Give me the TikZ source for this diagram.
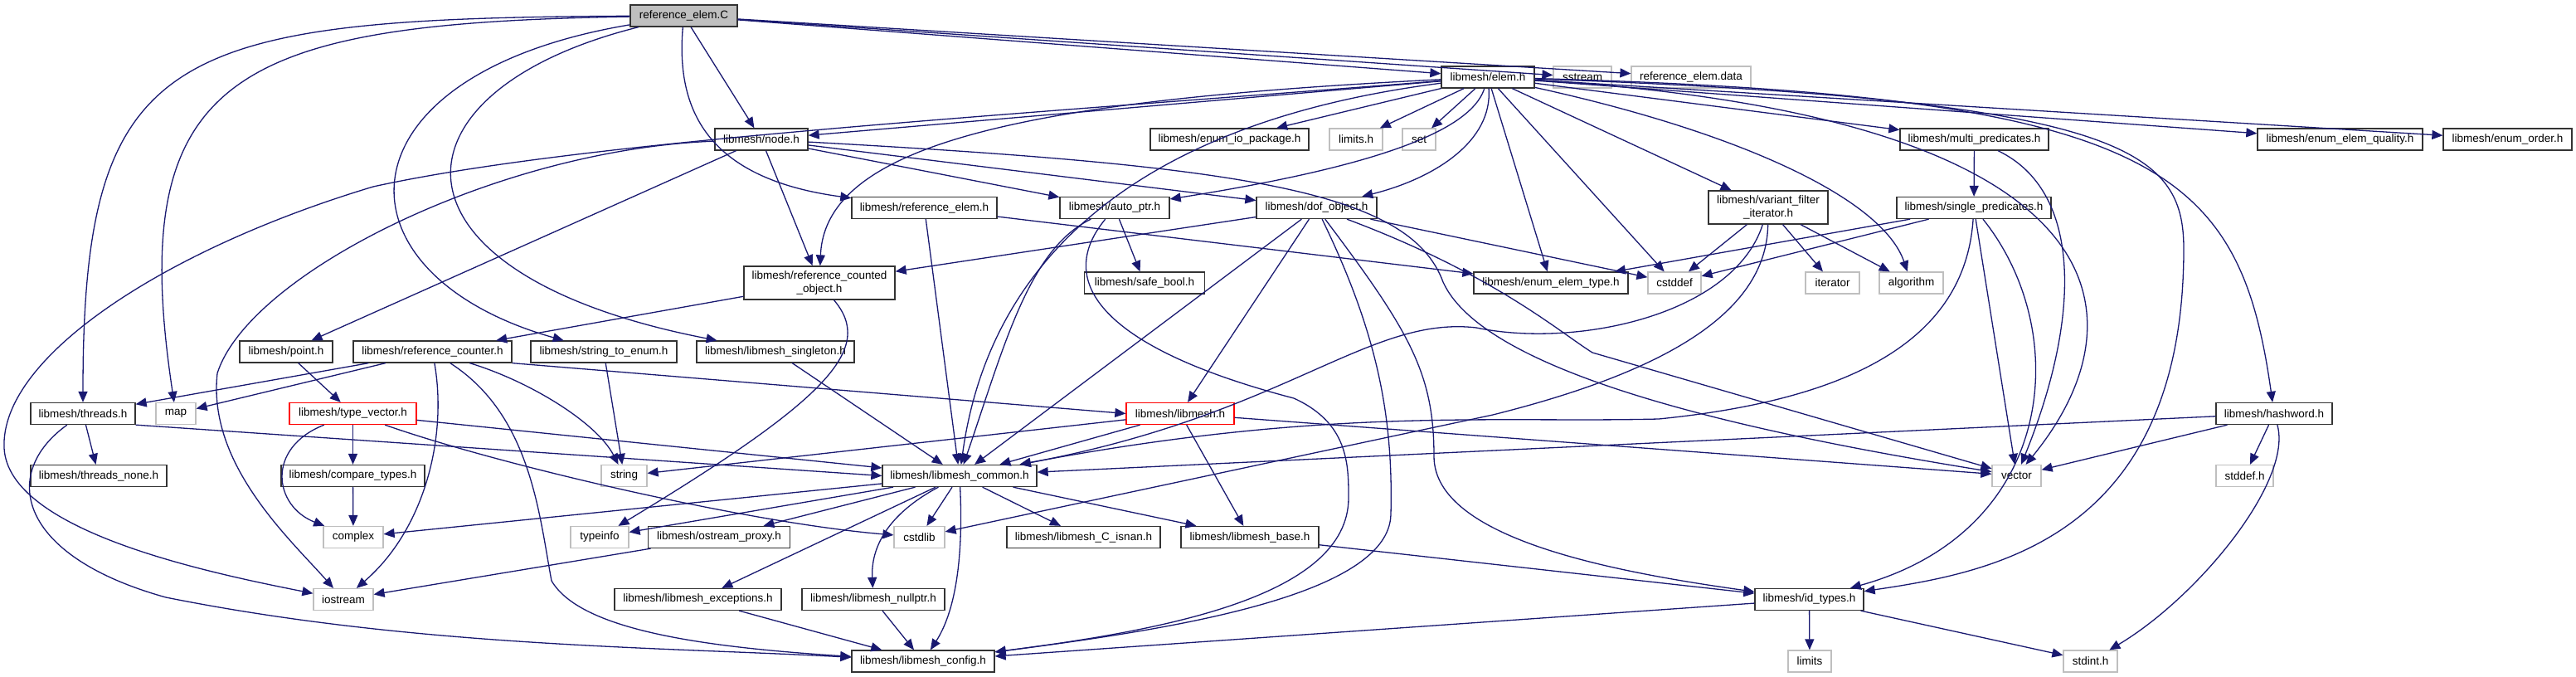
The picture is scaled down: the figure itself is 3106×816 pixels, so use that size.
\documentclass[tikz,border=0pt]{standalone}
\usepackage{fontspec}
\setmainfont{Liberation Sans}
\usetikzlibrary{arrows.meta}
\definecolor{edgeblue}{HTML}{191970}
\definecolor{sysgray}{HTML}{BFBFBF}
\definecolor{boxline}{HTML}{333333}

\begin{document}
\begin{tikzpicture}[x=1pt, y=-1pt,
    box/.style={draw, rectangle, minimum height=26pt, inner sep=1pt, align=center, font=\fontsize{13.5}{15.5}\selectfont},
    hdr/.style={box, draw=boxline, line width=1.3pt},
    sys/.style={box, draw=sysgray, line width=1.2pt},
    trunc/.style={box, draw=red, line width=1.3pt},
    rootbox/.style={box, draw=boxline, fill=sysgray, line width=1.3pt},
    dep/.style={-{Triangle[length=13pt,width=11pt]}, edgeblue, line width=1.3pt}]
    \useasboundingbox (0,0) rectangle (3106,816);

    % Nodes
    \node[rootbox, minimum width=129pt] (refC) at (824.5,19) {reference\_elem.C};

    \node[hdr, minimum width=112pt] (elemh) at (1794,93) {libmesh/elem.h};
    \node[sys, minimum width=70pt] (sstream) at (1908,93) {sstream};
    \node[sys, minimum width=144pt] (refdata) at (2039,93) {reference\_elem.data};

    \node[hdr, minimum width=112pt] (nodeh) at (918,168) {libmesh/node.h};
    \node[hdr, minimum width=191pt] (enumio) at (1482.5,168) {libmesh/enum\_io\_package.h};
    \node[sys, minimum width=64pt] (limitsh) at (1635,168) {limits.h};
    \node[sys, minimum width=40pt] (seth) at (1711,168) {set};
    \node[hdr, minimum width=179pt] (multipred) at (2380.5,168) {libmesh/multi\_predicates.h};
    \node[hdr, minimum width=199pt] (enumqual) at (2821.5,168) {libmesh/enum\_elem\_quality.h};
    \node[hdr, minimum width=155pt] (enumorder) at (3023.5,168) {libmesh/enum\_order.h};

    \node[hdr, minimum width=175pt] (refelemh) at (1114.5,250.5) {libmesh/reference\_elem.h};
    \node[hdr, minimum width=132pt] (autoptr) at (1344,250.5) {libmesh/auto\_ptr.h};
    \node[hdr, minimum width=145pt] (dofobj) at (1587.5,250.5) {libmesh/dof\_object.h};
    \node[hdr, minimum width=144pt, minimum height=40pt] (variant) at (2132,250) {libmesh/variant\_filter\\\_iterator.h};
    \node[hdr, minimum width=186pt] (singlepred) at (2380,250.5) {libmesh/single\_predicates.h};

    \node[hdr, minimum width=182pt, minimum height=40pt] (refcounted) at (988,341) {libmesh/reference\_counted\\\_object.h};
    \node[hdr, minimum width=145pt] (safebool) at (1380,341) {libmesh/safe\_bool.h};
    \node[hdr, minimum width=186pt] (enumtype) at (1870,341) {libmesh/enum\_elem\_type.h};
    \node[sys, minimum width=64pt] (cstddef) at (2019,341) {cstddef};
    \node[sys, minimum width=65pt] (iteratorh) at (2209.5,341) {iterator};
    \node[sys, minimum width=77pt] (algorithmh) at (2304.5,341) {algorithm};

    \node[hdr, minimum width=112pt] (pointh) at (345,424) {libmesh/point.h};
    \node[hdr, minimum width=191pt] (refcounter) at (521.5,424) {libmesh/reference\_counter.h};
    \node[hdr, minimum width=176pt] (str2enum) at (728,424) {libmesh/string\_to\_enum.h};
    \node[hdr, minimum width=190pt] (singleton) at (935,424) {libmesh/libmesh\_singleton.h};

    \node[hdr, minimum width=126pt] (threadsh) at (100,498.5) {libmesh/threads.h};
    \node[sys, minimum width=48pt] (maph) at (212,498.5) {map};
    \node[trunc, minimum width=153pt] (typevector) at (425.5,498.5) {libmesh/type\_vector.h};
    \node[trunc, minimum width=130pt] (libmeshh) at (1423,498.5) {libmesh/libmesh.h};
    \node[hdr, minimum width=140pt] (hashword) at (2742,498.5) {libmesh/hashword.h};

    \node[hdr, minimum width=164pt] (threadsnone) at (119,573.5) {libmesh/threads\_none.h};
    \node[hdr, minimum width=173pt] (comparetypes) at (425.5,573.5) {libmesh/compare\_types.h};
    \node[sys, minimum width=55pt] (stringh) at (752.5,573.5) {string};
    \node[hdr, minimum width=186pt] (common) at (1157,573.5) {libmesh/libmesh\_common.h};
    \node[sys, minimum width=59pt] (vectorh) at (2431.5,573.5) {vector};
    \node[sys, minimum width=69pt] (stddefh) at (2706.5,573.5) {stddef.h};

    \node[sys, minimum width=72pt] (complexh) at (426,647.5) {complex};
    \node[sys, minimum width=70pt] (typeinfoh) at (723,647.5) {typeinfo};
    \node[hdr, minimum width=171pt] (ostreamproxy) at (867,647.5) {libmesh/ostream\_proxy.h};
    \node[sys, minimum width=61pt] (cstdlibh) at (1108.5,647.5) {cstdlib};
    \node[hdr, minimum width=185pt] (cisnan) at (1306.5,647.5) {libmesh/libmesh\_C\_isnan.h};
    \node[hdr, minimum width=166pt] (baseh) at (1507,647.5) {libmesh/libmesh\_base.h};

    \node[sys, minimum width=72pt] (iostreamh) at (414,722.5) {iostream};
    \node[hdr, minimum width=201pt] (exceptions) at (841.5,722.5) {libmesh/libmesh\_exceptions.h};
    \node[hdr, minimum width=172pt] (nullptrh) at (1053,722.5) {libmesh/libmesh\_nullptr.h};
    \node[hdr, minimum width=131pt] (idtypes) at (2181.5,722.5) {libmesh/id\_types.h};

    \node[hdr, minimum width=172pt] (config) at (1113,797) {libmesh/libmesh\_config.h};
    \node[sys, minimum width=52pt] (limitsn) at (2182,797) {limits};
    \node[sys, minimum width=65pt] (stdinth) at (2520.5,797) {stdint.h};

    % Arrows from reference_elem.C
    \draw[dep] (refC) -- (elemh);
    \draw[dep] (refC) -- (sstream);
    \draw[dep] (refC) -- (refdata);
    \draw[dep] (refC) -- (nodeh);
    \draw[dep] (refC) .. controls (815,130) and (850,215) .. (refelemh);
    \draw[dep] (refC) .. controls (200,22) and (100,60) .. (threadsh);
    \draw[dep] (refC) .. controls (280,28) and (150,90) .. (maph);
    \draw[dep] (refC) .. controls (400,90) and (395,330) .. (str2enum);
    \draw[dep] (refC) .. controls (460,110) and (450,330) .. (singleton);

    % Arrows from elem.h
    \draw[dep] (elemh) -- (nodeh);
    \draw[dep] (elemh) -- (enumio);
    \draw[dep] (elemh) -- (limitsh);
    \draw[dep] (elemh) -- (seth);
    \draw[dep] (elemh) .. controls (1250,120) and (995,170) .. (refcounted);
    \draw[dep] (elemh) .. controls (1770,170) and (1600,210) .. (autoptr);
    \draw[dep] (elemh) .. controls (1800,170) and (1730,215) .. (dofobj);
    \draw[dep] (elemh) -- (enumtype);
    \draw[dep] (elemh) -- (cstddef);
    \draw[dep] (elemh) -- (variant);
    \draw[dep] (elemh) .. controls (2100,160) and (2270,240) .. (algorithmh);
    \draw[dep] (elemh) -- (multipred);
    \draw[dep] (elemh) -- (enumqual);
    \draw[dep] (elemh) -- (enumorder);
    \draw[dep] (elemh) .. controls (2600,115) and (2700,200) .. (hashword);
    \draw[dep] (elemh) .. controls (2560,140) and (2590,380) .. (vectorh);
    \draw[dep] (elemh) .. controls (2560,120) and (2633,180) .. (2633,300) .. controls (2633,650) and (2400,690) .. (idtypes);
    \draw[dep] (elemh) .. controls (1350,150) and (1190,330) .. (common);
    \draw[dep] (elemh) .. controls (1200,140) and (700,170) .. (450,225) .. controls (200,300) and (0,430) .. (5,540) .. controls (10,640) and (250,690) .. (iostreamh);

    % Arrows from node.h
    \draw[dep] (nodeh) -- (pointh);
    \draw[dep] (nodeh) -- (refcounted);
    \draw[dep] (nodeh) -- (autoptr);
    \draw[dep] (nodeh) -- (dofobj);
    \draw[dep] (nodeh) .. controls (600,180) and (300,330) .. (262,450) .. controls (250,560) and (350,650) .. (iostreamh);
    \draw[dep] (nodeh) .. controls (1500,200) and (1700,230) .. (1740,340) .. controls (1790,450) and (2100,520) .. (vectorh);

    % Row of reference_elem.h, auto_ptr.h, dof_object.h
    \draw[dep] (refelemh) -- (enumtype);
    \draw[dep] (refelemh) -- (common);
    \draw[dep] (autoptr) -- (safebool);
    \draw[dep] (autoptr) .. controls (1240,300) and (1210,420) .. (common);
    \draw[dep] (autoptr) .. controls (1270,340) and (1330,420) .. (1560,480) .. controls (1626,510) and (1626,560) .. (1626,600) .. controls (1626,720) and (1400,760) .. (config);
    \draw[dep] (dofobj) -- (refcounted);
    \draw[dep] (dofobj) -- (cstddef);
    \draw[dep] (dofobj) -- (common);
    \draw[dep] (dofobj) -- (libmeshh);
    \draw[dep] (dofobj) .. controls (1660,400) and (1680,500) .. (1677,620) .. controls (1675,720) and (1400,760) .. (config);
    \draw[dep] (dofobj) .. controls (1700,400) and (1729,450) .. (1729,550) .. controls (1729,650) and (1950,690) .. (idtypes);
    \draw[dep] (dofobj) .. controls (1800,330) and (1880,400) .. (1920,425) -- (vectorh);

    % Predicates and filter iterator
    \draw[dep] (variant) -- (cstddef);
    \draw[dep] (variant) -- (iteratorh);
    \draw[dep] (variant) -- (algorithmh);
    \draw[dep] (variant) .. controls (2090,380) and (1900,420) .. (1780,395) .. controls (1650,380) and (1550,500) .. (common);
    \draw[dep] (variant) .. controls (2130,380) and (2000,450) .. (1800,500) -- (cstdlibh);
    \draw[dep] (multipred) -- (singlepred);
    \draw[dep] (multipred) .. controls (2510,230) and (2510,380) .. (vectorh);
    \draw[dep] (singlepred) -- (enumtype);
    \draw[dep] (singlepred) -- (cstddef);
    \draw[dep] (singlepred) -- (vectorh);
    \draw[dep] (singlepred) .. controls (2500,400) and (2480,640) .. (idtypes);
    \draw[dep] (singlepred) .. controls (2370,400) and (2250,480) .. (2000,505) .. controls (1800,510) and (1600,490) .. (common);

    % hashword.h
    \draw[dep] (hashword) -- (common);
    \draw[dep] (hashword) -- (vectorh);
    \draw[dep] (hashword) -- (stddefh);
    \draw[dep] (hashword) .. controls (2765,580) and (2650,720) .. (stdinth);

    % libmesh.h
    \draw[dep] (libmeshh) -- (common);
    \draw[dep] (libmeshh) -- (baseh);
    \draw[dep] (libmeshh) -- (stringh);
    \draw[dep] (libmeshh) -- (vectorh);

    % reference counting
    \draw[dep] (refcounted) -- (refcounter);
    \draw[dep] (refcounted) .. controls (1055,420) and (1000,480) .. (typeinfoh);
    \draw[dep] (refcounter) -- (threadsh);
    \draw[dep] (refcounter) -- (maph);
    \draw[dep] (refcounter) .. controls (540,530) and (510,640) .. (iostreamh);
    \draw[dep] (refcounter) .. controls (640,460) and (720,510) .. (stringh);
    \draw[dep] (refcounter) .. controls (640,500) and (650,620) .. (665,700) .. controls (700,760) and (850,780) .. (config);
    \draw[dep] (refcounter.south east) -- (libmeshh.west);

    % point.h and type_vector.h
    \draw[dep] (pointh) -- (typevector);
    \draw[dep] (typevector) -- (comparetypes);
    \draw[dep] (typevector) .. controls (320,540) and (330,610) .. (complexh);
    \draw[dep] (typevector) -- (common);
    \draw[dep] (typevector) .. controls (600,560) and (900,630) .. (cstdlibh);
    \draw[dep] (comparetypes) -- (complexh);
    \draw[dep] (str2enum) -- (stringh);
    \draw[dep] (singleton) -- (common);

    % threads.h
    \draw[dep] (threadsh) -- (threadsnone);
    \draw[dep] (threadsh.south east) -- (common.west);
    \draw[dep] (threadsh) .. controls (0,570) and (20,670) .. (200,720) .. controls (500,780) and (800,780) .. (config);

    % libmesh_common.h
    \draw[dep] (ostreamproxy) -- (iostreamh);
    \draw[dep] (common) -- (complexh);
    \draw[dep] (common) -- (typeinfoh);
    \draw[dep] (common) -- (ostreamproxy);
    \draw[dep] (common) -- (cstdlibh);
    \draw[dep] (common) -- (cisnan);
    \draw[dep] (common) -- (baseh);
    \draw[dep] (common) -- (exceptions);
    \draw[dep] (common) .. controls (1070,620) and (1050,660) .. (nullptrh);
    \draw[dep] (common) .. controls (1162,680) and (1150,740) .. (config);
    \draw[dep] (exceptions) -- (config);
    \draw[dep] (nullptrh) -- (config);

    % id_types.h
    \draw[dep] (baseh) -- (idtypes);
    \draw[dep] (idtypes) -- (limitsn);
    \draw[dep] (idtypes) -- (stdinth);
    \draw[dep] (idtypes) -- (config);
\end{tikzpicture}
\end{document}
